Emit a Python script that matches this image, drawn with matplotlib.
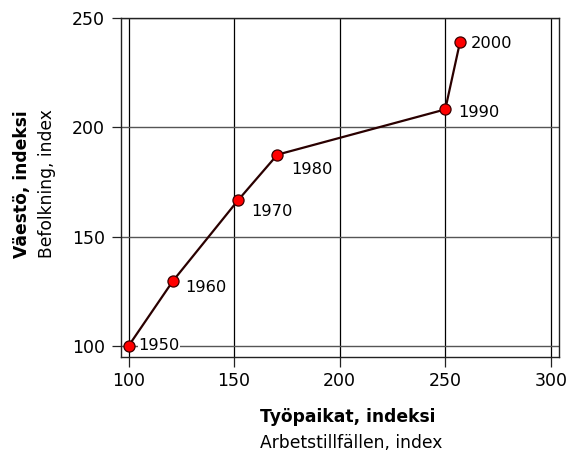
import matplotlib.pyplot as plt

plt.rcParams['font.family'] = ['DejaVu Sans']

# Data
years = [1950, 1960, 1970, 1980, 1990, 2000]
jobs = [100, 121, 152, 170.5, 250, 257]
population = [100, 129.7, 166.8, 187.5, 208.2, 239.1]
x_ticks = [100, 150, 200, 250, 300]
y_ticks = [100, 150, 200, 250]

fig = plt.figure(figsize=(5.69, 4.51), dpi=100)
ax = fig.add_axes([120.5 / 569, 1 - 356.7 / 451, (559.3 - 120.5) / 569, (356.7 - 18) / 451])

ax.set_xlim(96.2, 304)
ax.set_ylim(95.1, 250)
ax.set_xticks(x_ticks)
ax.set_yticks(y_ticks)

# grid lines, drawn under the data
for xv in x_ticks:
    ax.axvline(xv, color='black', lw=0.9, zorder=1)
for yv in y_ticks:
    ax.axhline(yv, color='#555555', lw=1.0, zorder=1)

ax.plot(jobs, population, color='#2a0000', lw=1.6, zorder=3,
        marker='o', markersize=8, markerfacecolor='#ff0000',
        markeredgecolor='#3a0000', markeredgewidth=0.9)

# year labels next to points (offsets in points)
offsets = [(7, 0), (9, -5), (9, -8), (10, -11), (9, -2), (8, -1)]
for x, y, yr, (dx, dy) in zip(jobs, population, years, offsets):
    t = ax.annotate(str(yr), (x, y), xytext=(dx, dy), textcoords='offset points',
                    fontsize=11.7, ha='left', va='center', zorder=4)
    if yr == 1950:
        t.set_bbox(dict(facecolor='white', edgecolor='none', pad=0.3))

for s in ax.spines.values():
    s.set_linewidth(1.0)
    s.set_color('#222222')

ax.tick_params(axis='both', direction='out', width=0.9, labelsize=12.5, color='#222222')
ax.tick_params(axis='y', length=6.5, pad=4.5)
ax.tick_params(axis='x', length=7.2, pad=3.5)

fig.text(260 / 569, 1 - 421.5 / 451, 'Työpaikat, indeksi', fontsize=12.3,
         fontweight='bold', ha='left', va='baseline')
fig.text(260 / 569, 1 - 447.5 / 451, 'Arbetstillfällen, index', fontsize=12.3,
         ha='left', va='baseline')
fig.text(27 / 569, 1 - 258 / 451, 'Väestö, indeksi', fontsize=12.3,
         fontweight='bold', rotation=90, rotation_mode='anchor',
         ha='left', va='baseline')
fig.text(51.5 / 569, 1 - 258 / 451, 'Befolkning, index', fontsize=12.3,
         rotation=90, rotation_mode='anchor', ha='left', va='baseline')

fig.savefig('out.png', dpi=100)
